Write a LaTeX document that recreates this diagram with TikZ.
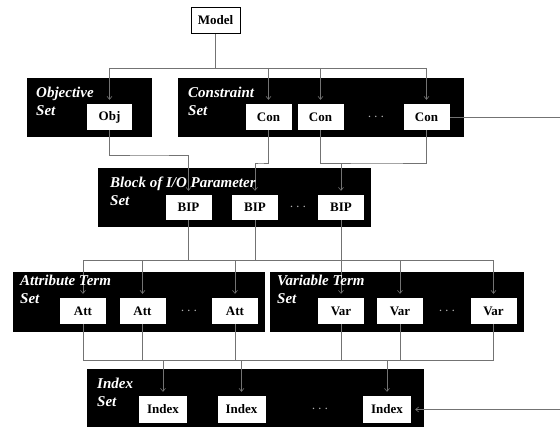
\documentclass[tikz,border=0pt]{standalone}
\usepackage{fontspec}
\setmainfont{Liberation Serif}
\usetikzlibrary{arrows.meta, backgrounds}
\pgfdeclarelayer{wires}
\pgfsetlayers{background,wires,main}
\tikzset{
  setbox/.style = {
    rectangle, fill=black, draw=none, inner sep=0pt
  },
  settitle/.style = {
    anchor=north west, inner sep=0pt, align=left, text=white,
    font=\fontsize{15}{18}\selectfont\bfseries\itshape
  },
  member/.style = {
    rectangle, fill=white, draw=none, inner sep=0pt,
    minimum width=46pt, minimum height=26pt,
    font=\fontsize{13}{13}\selectfont\bfseries
  },
  modelbox/.style = {
    member, draw=black, line width=0.6pt, minimum width=49pt
  },
  skipdots/.style = {
    text=gray!60, inner sep=0pt, font=\fontsize{14}{14}\selectfont
  },
  link/.style = { draw=black!55, line width=0.6pt },
  feed/.style = { link, -{Straight Barb[length=3pt,width=5pt]}, shorten >=4pt }
}

\begin{document}
\begin{tikzpicture}[x=1pt, y=-1pt]

    \useasboundingbox (0,0) rectangle (560,428);

    % ------------------------------------------------------------ Set boxes
    \begin{scope}[on background layer]
      \node [setbox, minimum width=125pt, minimum height=59pt] (objset) at ( 89.5,107.5) {};
      \node [setbox, minimum width=286pt, minimum height=59pt] (conset) at (321,  107.5) {};
      \node [setbox, minimum width=273pt, minimum height=59pt] (bipset) at (234.5,197.5) {};
      \node [setbox, minimum width=252pt, minimum height=60pt] (attset) at (139,  302)   {};
      \node [setbox, minimum width=254pt, minimum height=60pt] (varset) at (397,  302)   {};
      \node [setbox, minimum width=337pt, minimum height=58pt] (idxset) at (255.5,398)   {};
    \end{scope}

    % --------------------------------------------------------------- Titles
    \node [settitle] (objtitle) at ( 36, 87)   {Objective\\Set};
    \node [settitle] (contitle) at (188, 87)   {Constraint\\Set};
    \node [settitle] (biptitle) at (110, 176.5) {Block of I/O Parameter\\Set};
    \node [settitle] (atttitle) at ( 20, 274.5) {Attribute Term\\Set};
    \node [settitle] (vartitle) at (277, 274.5) {Variable Term\\Set};
    \node [settitle] (idxtitle) at ( 97, 377.5) {Index\\Set};

    % -------------------------------------------------------------- Members
    \node [modelbox] (model) at (215.5, 20) {Model};

    \node [member, minimum width=45pt] (obj) at (109.5,117) {Obj};

    \node [member] (con1) at (268.5,117) {Con};
    \node [member] (con2) at (320.5,117) {Con};
    \node [member] (con3) at (426.5,117) {Con};

    \node [member, minimum height=25pt] (bip1) at (188.5,207.5) {BIP};
    \node [member, minimum height=25pt] (bip2) at (255,  207.5) {BIP};
    \node [member, minimum height=25pt] (bip3) at (341,  207.5) {BIP};

    \node [member] (att1) at ( 83,  311) {Att};
    \node [member] (att2) at (142.5,311) {Att};
    \node [member] (att3) at (235,  311) {Att};

    \node [member] (var1) at (341,  311) {Var};
    \node [member] (var2) at (400,  311) {Var};
    \node [member] (var3) at (493.5,311) {Var};

    \node [member, minimum width=48pt, minimum height=27pt] (idx1) at (163,  409.5) {Index};
    \node [member, minimum width=48pt, minimum height=27pt] (idx2) at (241.5,409.5) {Index};
    \node [member, minimum width=48pt, minimum height=27pt] (idx3) at (387,  409.5) {Index};

    % ----------------------------------------------------------------- Dots
    \node [skipdots] (condots) at (376,117)   {$\cdots$};
    \node [skipdots] (bipdots) at (298,207.5) {$\cdots$};
    \node [skipdots] (attdots) at (189,311)   {$\cdots$};
    \node [skipdots] (vardots) at (447,311)   {$\cdots$};
    \node [skipdots] (idxdots) at (320,409.5) {$\cdots$};

    % ------------------------------------------------------ Bends and buses
    \coordinate (topbus)  at (215.5, 68);
    \coordinate (objbend) at (150, 155);
    \coordinate (conbend) at (260, 163);
    \coordinate (conbus)  at (380, 163);
    \coordinate (midbus)  at (300, 260);
    \coordinate (lowbus)  at (300, 360);
    \coordinate (conout)  at (560, 117);
    \coordinate (idxin)   at (560, 409.5);

    % ----------------------------------------- Connectors (under the members)
    \begin{pgfonlayer}{wires}

      % -------- model to objective and constraints
      \draw [link] (model) -- (topbus);
      \draw [link] (topbus -| obj) -- (topbus -| con3);
      \draw [feed] (topbus -| obj)  -- (obj);
      \draw [feed] (topbus -| con1) -- (con1);
      \draw [feed] (topbus -| con2) -- (con2);
      \draw [feed] (topbus -| con3) -- (con3);

      % -------- objective and constraints to parameter blocks
      \draw [feed] (obj)  |- (objbend) -| (bip1);
      \draw [feed] (con1) |- (conbend) -| (bip2);
      \draw [link] (con2) |- (conbus)  -| (con3);
      \draw [feed] (conbus -| bip3) -- (bip3);
      \draw [link] (con3) -- (conout);

      % -------- parameter blocks to attributes and variables
      \draw [link] (bip1) -- (bip1 |- midbus);
      \draw [link] (bip2) -- (bip2 |- midbus);
      \draw [link] (midbus -| att1) -- (midbus -| var3);
      \draw [feed] (midbus -| att1) -- (att1);
      \draw [feed] (midbus -| att2) -- (att2);
      \draw [feed] (midbus -| att3) -- (att3);
      \draw [feed] (bip3) -- (var1);
      \draw [feed] (midbus -| var2) -- (var2);
      \draw [feed] (midbus -| var3) -- (var3);

      % -------- attributes and variables to indices
      \draw [link] (att1) -- (att1 |- lowbus);
      \draw [link] (att2) -- (att2 |- lowbus);
      \draw [link] (att3) -- (att3 |- lowbus);
      \draw [link] (var1) -- (var1 |- lowbus);
      \draw [link] (var2) -- (var2 |- lowbus);
      \draw [link] (var3) -- (var3 |- lowbus);
      \draw [link] (lowbus -| att1) -- (lowbus -| var3);
      \draw [feed] (lowbus -| idx1) -- (idx1);
      \draw [feed] (lowbus -| idx2) -- (idx2);
      \draw [feed] (lowbus -| idx3) -- (idx3);
      \draw [feed] (idxin) -- (idx3);

    \end{pgfonlayer}

\end{tikzpicture}
\end{document}
